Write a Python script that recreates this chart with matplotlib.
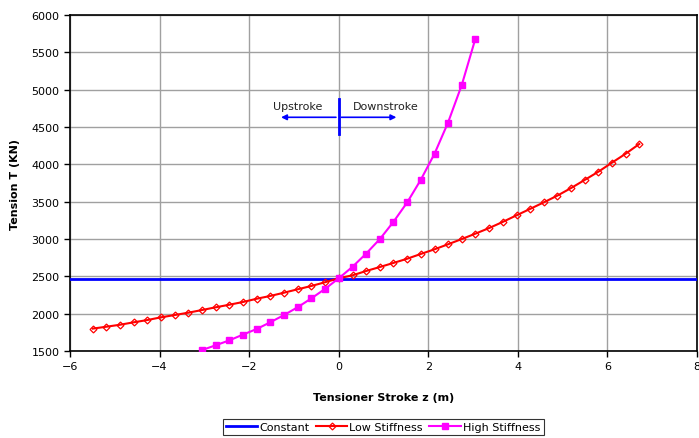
import numpy as np
import matplotlib.pyplot as plt

# data
constant_t = 2470

low_z = [-5.49, -5.19, -4.88, -4.58, -4.27, -3.97, -3.66, -3.36, -3.05, -2.75,
         -2.44, -2.14, -1.83, -1.53, -1.22, -0.92, -0.61, -0.31, 0.0,
         0.31, 0.61, 0.92, 1.22, 1.53, 1.83, 2.14, 2.44, 2.75, 3.05, 3.36,
         3.66, 3.97, 4.27, 4.58, 4.88, 5.19, 5.49, 5.80, 6.10, 6.41, 6.71]
low_t = [1800, 1825, 1852, 1884, 1915, 1951, 1982, 2013, 2049, 2085,
         2120, 2156, 2200, 2237, 2281, 2326, 2371, 2420, 2474,
         2514, 2571, 2625, 2679, 2736, 2799, 2862, 2929, 3000, 3071, 3147,
         3228, 3317, 3402, 3491, 3580, 3683, 3790, 3902, 4022, 4143, 4272]

high_z = [-3.05, -2.75, -2.44, -2.14, -1.83, -1.53, -1.22, -0.92, -0.61, -0.31,
          0.0, 0.31, 0.61, 0.92, 1.22, 1.53, 1.83, 2.14, 2.44, 2.75, 3.05]
high_t = [1513, 1576, 1643, 1719, 1795, 1884, 1982, 2085, 2205, 2330,
          2473, 2629, 2803, 3000, 3228, 3491, 3790, 4143, 4558, 5067, 5679]

fig = plt.figure(figsize=(6.99, 4.39), dpi=100)
ax = fig.add_axes([70/699, 87/439, 627/699, 336/439])

ax.axhline(constant_t, color='#0000ff', lw=2, label='Constant', zorder=3)
ax.plot(low_z, low_t, color='#ff0000', lw=1.5, marker='D', markersize=3.5,
        markerfacecolor='none', markeredgewidth=0.9, label='Low Stiffness', zorder=4)
ax.plot(high_z, high_t, color='#ff00ff', lw=1.5, marker='s', markersize=5,
        label='High Stiffness', zorder=5)

# upstroke / downstroke annotation
ax.plot([0, 0], [4400, 4880], color='#0000ff', lw=2, zorder=6)
ax.annotate('', xy=(-1.35, 4630), xytext=(0, 4630),
            arrowprops=dict(arrowstyle='-|>', color='#0000ff', lw=1.2, mutation_scale=8))
ax.annotate('', xy=(1.35, 4630), xytext=(0, 4630),
            arrowprops=dict(arrowstyle='-|>', color='#0000ff', lw=1.2, mutation_scale=8))
ax.text(-0.92, 4715, 'Upstroke', ha='center', va='bottom', fontsize=8, color='#222222')
ax.text(1.05, 4715, 'Downstroke', ha='center', va='bottom', fontsize=8, color='#222222')

ax.set_xlim(-6, 8)
ax.set_ylim(1500, 6000)
ax.set_xticks(np.arange(-6, 9, 2))
ax.set_yticks(np.arange(1500, 6001, 500))
ax.grid(True, color='#a0a0a0', lw=1)
ax.set_axisbelow(True)
ax.tick_params(labelsize=8, length=4, width=1, colors='black')
for s in ax.spines.values():
    s.set_color('black')
    s.set_linewidth(1.2)

ax.set_xlabel('Tensioner Stroke z (m)', fontsize=8, fontweight='bold', labelpad=15)
ax.set_ylabel('Tension T (KN)', fontsize=8, fontweight='bold', labelpad=8)

leg = fig.legend(loc='center', bbox_to_anchor=(383/699, 1 - 428/439), ncol=3,
                 fontsize=8, frameon=True, fancybox=False, edgecolor='black',
                 handlelength=2.8, handletextpad=0.2, columnspacing=0.6,
                 borderpad=0.3, borderaxespad=0)
leg.get_frame().set_linewidth(0.8)

fig.savefig('out.png', dpi=100)
